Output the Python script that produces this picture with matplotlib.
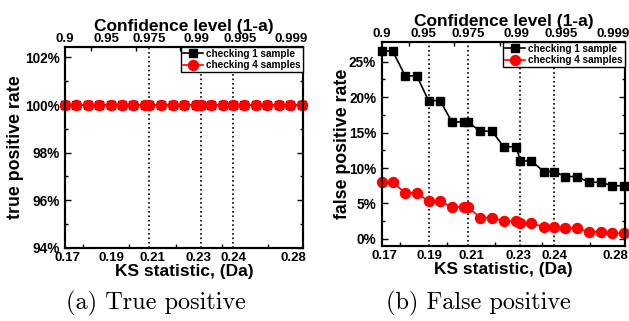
import matplotlib
matplotlib.use("Agg")
import matplotlib.pyplot as plt
from matplotlib.ticker import FixedLocator, FuncFormatter

plt.rcParams['font.family'] = ['Liberation Sans', 'DejaVu Sans']
plt.rcParams['font.weight'] = 'bold'

# horizontal position of each test point (fraction of the axis width)
x_pos = [0.000, 0.045, 0.096, 0.144, 0.192, 0.240, 0.288, 0.336, 0.353, 0.405, 0.453, 0.501,
         0.552, 0.570, 0.615, 0.666, 0.707, 0.755, 0.803, 0.851, 0.899, 0.947, 0.995]

# (a) true positive rate, %
tp_one = [100] * 23
tp_four = [100] * 23

# (b) false positive rate, %
fp_one = [26.5, 26.5, 23.0, 23.0, 19.5, 19.5, 16.5, 16.5, 16.5, 15.2, 15.2, 13.0,
          13.0, 11.0, 11.0, 9.5, 9.5, 8.8, 8.8, 8.0, 8.0, 7.5, 7.5]
fp_four = [8.0, 8.0, 6.5, 6.5, 5.3, 5.3, 4.5, 4.5, 4.5, 3.0, 3.0, 2.5,
           2.5, 2.2, 2.2, 1.7, 1.7, 1.5, 1.5, 1.0, 1.0, 0.8, 0.8]

# axis labels and where they sit
ks_labels = ['0.17', '0.19', '0.21', '0.23', '0.24', '0.28']
ks_label_pos = [0.01, 0.195, 0.368, 0.56, 0.71, 0.96]
conf_labels = ['0.9', '0.95', '0.975', '0.99', '0.995', '0.999']
conf_label_pos = [-0.04, 0.14, 0.33, 0.535, 0.725, 0.95]
minor_x = [0.075, 0.27, 0.465, 0.66, 0.855]

# critical values marked by dotted lines
crit_a = [0.353, 0.570, 0.707]
crit_b = [0.193, 0.355, 0.570, 0.707]

fig = plt.figure(figsize=(6.29, 3.21), dpi=100)
ax1 = fig.add_axes([0.1033, 0.2283, 0.378, 0.626])
ax2 = fig.add_axes([0.607, 0.2336, 0.3868, 0.636])

pct = FuncFormatter(lambda v, p: '%d%%' % round(v))


def style(ax, one, four, crit, ylim, ymaj, ymin, ylabel, ylab_x):
    for c in crit:
        ax.axvline(c, color='black', ls=':', lw=1.2, zorder=1)
    l1, = ax.plot(x_pos, one, color='black', marker='s', ms=6.3, lw=1.2,
                  label='checking 1 sample', clip_on=False, zorder=3)
    l2, = ax.plot(x_pos, four, color='red', marker='o', ms=7.2, lw=1.2,
                  label='checking 4 samples', clip_on=False, zorder=4)
    ax.set_xlim(0, 1)
    ax.set_ylim(*ylim)
    ax.yaxis.set_major_locator(FixedLocator(ymaj))
    ax.yaxis.set_minor_locator(FixedLocator(ymin))
    ax.yaxis.set_major_formatter(pct)
    ax.set_xticks(ks_label_pos)
    ax.set_xticklabels(ks_labels)
    ax.xaxis.set_minor_locator(FixedLocator(minor_x))
    ax.tick_params(axis='x', which='major', length=0, pad=3, labelsize=9.5)
    ax.tick_params(axis='x', which='minor', direction='in', length=3, width=1, top=False)
    ax.tick_params(axis='y', which='both', direction='in', right=True, width=1,
                   labelsize=9.8, pad=4)
    ax.tick_params(axis='y', which='major', length=4)
    ax.tick_params(axis='y', which='minor', length=2.5)
    for s in ax.spines.values():
        s.set_linewidth(1.5)
    ax.set_xlabel('KS statistic, (Da)', fontsize=12.5, fontweight='bold', labelpad=0)
    ax.set_ylabel(ylabel, fontsize=12.8, fontweight='bold')
    ax.yaxis.set_label_coords(ylab_x, 0.5)

    top = ax.twiny()
    top.set_xlim(0, 1)
    top.set_xticks(conf_label_pos)
    top.set_xticklabels(conf_labels)
    top.xaxis.set_minor_locator(FixedLocator(minor_x))
    top.tick_params(axis='x', which='major', length=0, pad=1, labelsize=9.5)
    top.tick_params(axis='x', which='minor', direction='in', length=3, width=1)
    for s in top.spines.values():
        s.set_linewidth(1.5)
    top.set_xlabel('Confidence level (1-a)', fontsize=12.5, fontweight='bold', labelpad=2)

    leg = top.legend([l1, l2], ['checking 1 sample', 'checking 4 samples'],
                     loc='upper right', borderaxespad=0, fancybox=False, framealpha=1,
                     edgecolor='black', prop={'size': 7.2, 'weight': 'bold'},
                     handlelength=2, handletextpad=0.3, borderpad=0.2, labelspacing=0.15)
    leg.get_frame().set_linewidth(1.0)


style(ax1, tp_one, tp_four, crit_a, (94, 102.45), [94, 96, 98, 100, 102],
      [95, 97, 99, 101], 'true positive rate', -0.172)
style(ax2, fp_one, fp_four, crit_b, (-1, 27.8), [0, 5, 10, 15, 20, 25],
      [2.5, 7.5, 12.5, 17.5, 22.5], 'false positive rate', -0.126)

fig.text(155.7 / 629, 1 - 303 / 321, '(a) True positive', family='cmr10',
         fontweight='normal', fontsize=17.5, ha='center', va='center')
fig.text(478 / 629, 1 - 303 / 321, '(b) False positive', family='cmr10',
         fontweight='normal', fontsize=17.5, ha='center', va='center')

fig.savefig('out.png', dpi=100)
